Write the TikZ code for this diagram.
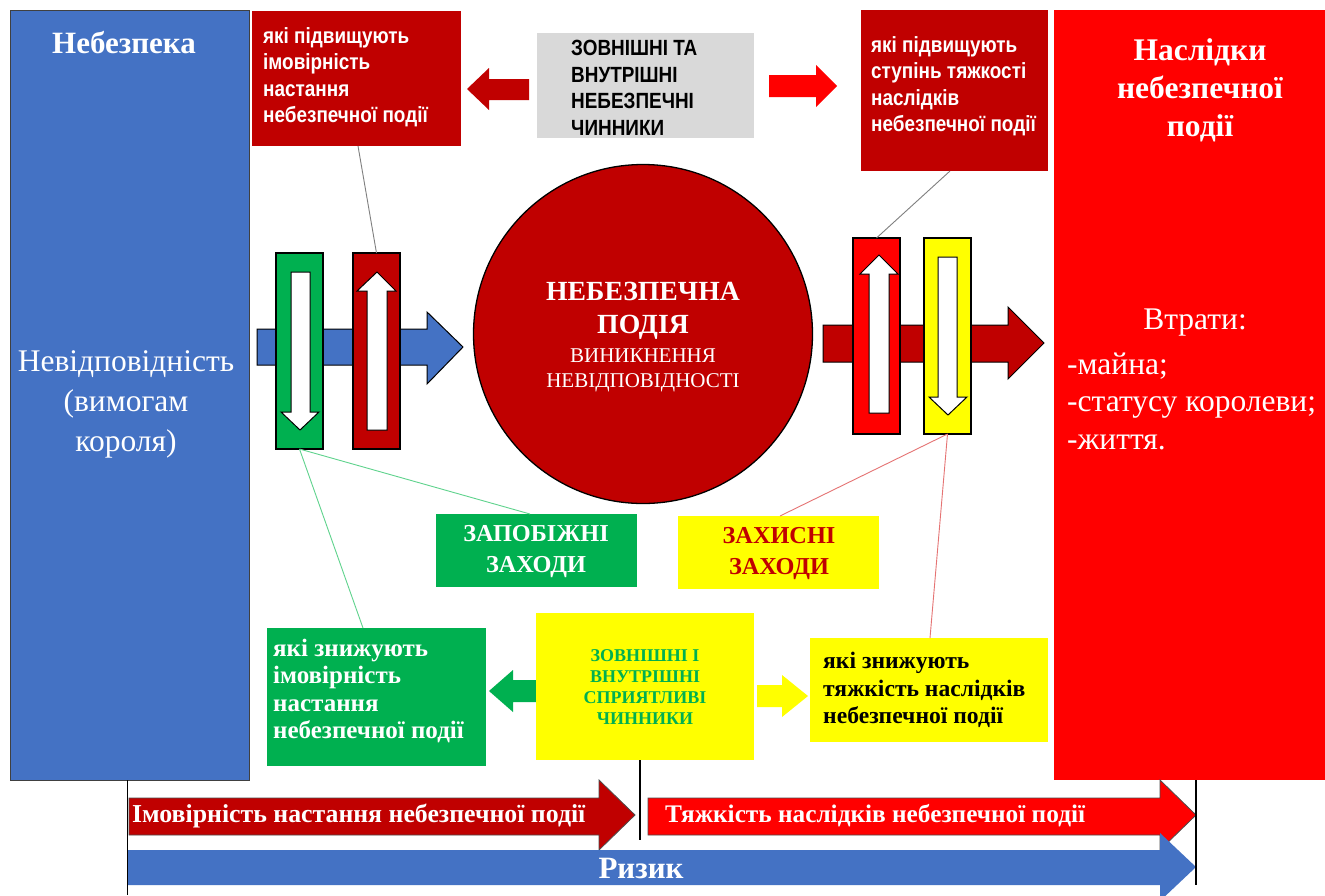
\documentclass[tikz,border=0pt]{standalone}
\usepackage{fontspec}
\setmainfont{Liberation Serif}
\newfontfamily\nsans[FakeStretch=0.86]{Liberation Sans}
\usetikzlibrary{calc}
\definecolor{cblue}{HTML}{4472C4}
\definecolor{cdred}{HTML}{C00000}
\definecolor{cred}{HTML}{FF0000}
\definecolor{cgreen}{HTML}{00B050}
\definecolor{cyel}{HTML}{FFFF00}
\definecolor{cgray}{HTML}{D9D9D9}
\definecolor{lgreen}{HTML}{5FD38D}
\definecolor{lred}{HTML}{E57373}
\definecolor{lgray}{HTML}{7F7F7F}
\tikzset{
  plain/.style={inner sep=0pt, outer sep=0pt, anchor=north west},
  vbar/.style={plain, draw=black, line width=1.3pt, minimum width=47pt, minimum height=196pt},
  inarrow/.style={fill=white, draw=black, line width=1pt},
  blk/.style={draw=black, line width=1pt},
  bdr/.style={draw=black!70, line width=0.8pt},
  wt/.style={inner sep=0pt, text=white, align=left},
  ct/.style={inner sep=0pt, align=center},
  sanstxt/.style={font=\nsans\bfseries\fontsize{22}{26.5}\selectfont},
  conn/.style={line width=0.9pt},
  axis/.style={line width=1.6pt, draw=black},
}
\begin{document}
\begin{tikzpicture}[x=1pt,y=-1pt]
\useasboundingbox (0,0) rectangle (1325,895);
\fill[white] (0,0) rectangle (1325,895);

% left hazard column
\node[plain, fill=cblue, draw=black!75, line width=1pt, minimum width=239pt, minimum height=770pt] (haz) at (10,10) {};
\node[ct, text=white, font=\bfseries\fontsize{31}{36}\selectfont] (hazT) at (124,43) {Небезпека};
\node[ct, text=white, font=\fontsize{31.5}{40}\selectfont] (hazD) at (126,404) {Невідповідність\\(вимогам\\короля)};

% top-left box
\node[plain, fill=cdred, minimum width=209pt, minimum height=135pt] (tl) at (252,11) {};
\node[wt, anchor=west, sanstxt] (tlT) at (263,77) {які підвищують\\імовірність\\настання\\небезпечної події};

% gray box
\node[plain, fill=cgray, minimum width=217pt, minimum height=105pt] (gr) at (537,33) {};
\node[wt, text=black, anchor=west, sanstxt] (grT) at (571,88) {ЗОВНІШНІ ТА\\ВНУТРІШНІ\\НЕБЕЗПЕЧНІ\\ЧИННИКИ};

% top arrows
\fill[cdred] (467,89) -- (489,68) -- (489,79) -- (529,79) -- (529,100) -- (489,100) -- (489,110) -- cycle;
\fill[cred] (769,75) -- (816,75) -- (816,65) -- (837,86) -- (816,107) -- (816,97) -- (769,97) -- cycle;

% top-right box
\node[plain, fill=cdred, minimum width=187pt, minimum height=161pt] (tr) at (861,10) {};
\node[wt, anchor=west, sanstxt] (trT) at (871,86) {які підвищують\\ступінь тяжкості\\наслідків\\небезпечної події};

% right consequences column
\node[plain, fill=cred, minimum width=271pt, minimum height=770pt] (cons) at (1054,10) {};
\node[ct, text=white, font=\bfseries\fontsize{31.5}{38}\selectfont] (consT) at (1200,90) {Наслідки\\небезпечної\\події};
\node[ct, text=white, font=\fontsize{31.5}{38}\selectfont] (lossT) at (1195,323) {Втрати:};
\node[wt, anchor=west, font=\fontsize{31.5}{37.5}\selectfont] (lossL) at (1067,401) {-майна;\\-статусу королеви;\\-життя.};

% left middle flow
\draw[blk, fill=cblue] (257,329) -- (427,329) -- (427,312) -- (463,347) -- (427,384) -- (427,365) -- (257,365) -- cycle;
\node[vbar, fill=cgreen] (gbar) at (276,253) {};
\draw[inarrow] (291,272) -- (310,272) -- (310,412) -- (319,412) -- (300,430) -- (281,412) -- (291,412) -- cycle;
\node[vbar, fill=cdred] (rbar) at (353,253) {};
\draw[inarrow] (377,272) -- (396,291) -- (387,291) -- (387,430) -- (367,430) -- (367,291) -- (357,291) -- cycle;

% central event
\node[circle, fill=cdred, draw=black, line width=1.3pt, minimum size=339pt, inner sep=0pt] (ev) at (643,334) {};
\node[ct, text=white, font=\bfseries\fontsize{27.7}{33}\selectfont] (evT) at (643,311) {НЕБЕЗПЕЧНА\\ПОДІЯ};
\node[ct, text=white, font=\fontsize{21}{25}\selectfont] (evS) at (643,370) {ВИНИКНЕННЯ\\НЕВІДПОВІДНОСТІ};

% right middle flow
\draw[blk, fill=cdred] (823,325) -- (1008,325) -- (1008,307) -- (1044,343) -- (1008,379) -- (1008,362) -- (823,362) -- cycle;
\node[vbar, fill=cred] (rbar2) at (853,238) {};
\draw[inarrow] (879,255) -- (898,274) -- (889,274) -- (889,413) -- (869,413) -- (869,274) -- (860,274) -- cycle;
\node[vbar, fill=cyel] (ybar) at (924,238) {};
\draw[inarrow] (938,257) -- (957,257) -- (957,397) -- (967,397) -- (948,415) -- (929,397) -- (938,397) -- cycle;

% measures
\node[plain, fill=cgreen, minimum width=201pt, minimum height=73pt] (prev) at (436,514) {};
\node[ct, text=white, font=\bfseries\fontsize{24.3}{31}\selectfont] (prevT) at (536,552) {ЗАПОБІЖНІ\\ЗАХОДИ};
\node[plain, fill=cyel, minimum width=201pt, minimum height=73pt] (prot) at (678,516) {};
\node[ct, text=cdred, font=\bfseries\fontsize{24.3}{31}\selectfont] (protT) at (779,554) {ЗАХИСНІ\\ЗАХОДИ};

% lower boxes
\node[plain, fill=cgreen, minimum width=219pt, minimum height=138pt] (lowG) at (267,628) {};
\node[wt, anchor=west, font=\bfseries\fontsize{25}{27.5}\selectfont] (lowGT) at (273,691) {які знижують\\імовірність\\настання\\небезпечної події};
\fill[cgreen] (489,691) -- (513,670) -- (513,680) -- (536,680) -- (536,702) -- (513,702) -- (513,712) -- cycle;
\node[plain, fill=cyel, minimum width=218pt, minimum height=147pt] (ymid) at (536,613) {};
\node[ct, text=cgreen, font=\bfseries\fontsize{18}{21}\selectfont] (ymidT) at (645,687) {ЗОВНІШНІ І\\ВНУТРІШНІ\\СПРИЯТЛИВІ\\ЧИННИКИ};
\fill[cyel] (757,685) -- (782,685) -- (782,675) -- (808,696) -- (782,717) -- (782,707) -- (757,707) -- cycle;
\node[plain, fill=cyel, minimum width=238pt, minimum height=104pt] (yR) at (810,638) {};
\node[wt, text=black, anchor=west, font=\bfseries\fontsize{23.6}{27.5}\selectfont] (yRT) at (823,690) {які знижують\\тяжкість наслідків\\небезпечної події};

% connectors
\draw[conn, lgray] ([xshift=106pt]tl.south west) -- (rbar.north);
\draw[conn, lgray] ([xshift=89pt]tr.south west) -- (rbar2.north);
\draw[conn, lgreen] (gbar.south) -- ([xshift=94pt]prev.north west);
\draw[conn, lgreen] (gbar.south) -- ([xshift=96pt]lowG.north west);
\draw[conn, lred] (ybar.south) -- ([xshift=102pt]prot.north west);
\draw[conn, lred] (ybar.south) -- ([xshift=120pt]yR.north west);

% bottom arrows
\draw[bdr, fill=cdred] (129,798) -- (599,798) -- (599,780) -- (635,815) -- (599,850) -- (599,835) -- (129,835) -- cycle;
\node[wt, anchor=west, font=\bfseries\fontsize{25.8}{30}\selectfont] (probT) at (132,816) {Імовірність настання небезпечної події};
\draw[bdr, fill=cred] (648,798) -- (1160,798) -- (1160,780) -- (1196,815) -- (1160,850) -- (1160,835) -- (648,835) -- cycle;
\node[wt, anchor=west, font=\bfseries\fontsize{25.3}{30}\selectfont] (sevT) at (665,816) {Тяжкість наслідків небезпечної події};
\fill[cblue] (128,850) -- (1160,850) -- (1160,833) -- (1196,867) -- (1160,901) -- (1160,885) -- (128,885) -- cycle;
\node[ct, text=white, font=\bfseries\fontsize{31}{34}\selectfont] (riskT) at (641,868) {Ризик};

% axis lines
\draw[axis] ([xshift=-2pt]haz.south) -- ++(0,115);
\draw[axis] ([xshift=-5pt]ymid.south) -- ++(0,80);
\draw[axis] ([xshift=142pt]cons.south west) -- ++(0,105);
\end{tikzpicture}
\end{document}
